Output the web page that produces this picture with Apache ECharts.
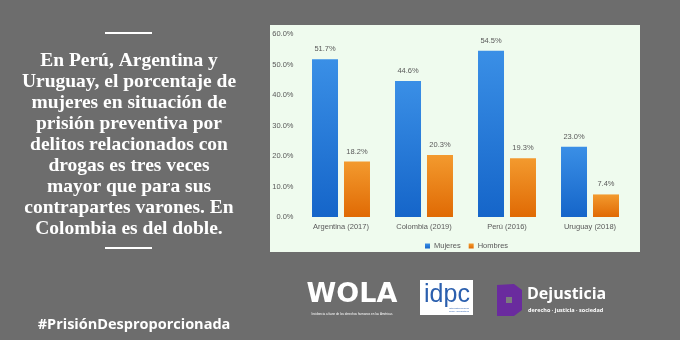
<!DOCTYPE html>
<html><head><meta charset="utf-8">
<script src="https://cdn.jsdelivr.net/npm/echarts@6/dist/echarts.min.js"></script>
<style>html,body{margin:0;padding:0;background:#6d6d6d}#c{width:680px;height:340px}</style>
</head><body><div id="c"></div>
<script>
const categories = ['Argentina (2017)', 'Colombia (2019)', 'Perú (2016)', 'Uruguay (2018)'];
const mujeres = [51.7, 44.6, 54.5, 23.0];
const hombres = [18.2, 20.3, 19.3, 7.4];
const seriesNames = ['Mujeres', 'Hombres'];
const yTicks = { min: 0, max: 60, interval: 10 };
const headline = ['En Perú, Argentina y', 'Uruguay, el porcentaje de', 'mujeres en situación de', 'prisión preventiva por', 'delitos relacionados con', 'drogas es tres veces', 'mayor que para sus', 'contrapartes varones. En', 'Colombia es del doble.'];
const hashtag = '#PrisiónDesproporcionada';

const chart = echarts.init(document.getElementById('c'), null, { renderer: 'canvas' });
const grad = (a, b) => new echarts.graphic.LinearGradient(0, 0, 0, 1, [{ offset: 0, color: a }, { offset: 1, color: b }]);
const lblStyle = { show: true, position: 'top', distance: 6, fontSize: 7.5, color: '#595959', fontFamily: 'Liberation Sans', formatter: p => p.value.toFixed(1) + '%' };

chart.setOption({
  backgroundColor: '#6d6d6d',
  animation: false,
  graphic: [
    { type: 'rect', z: -10, shape: { x: 270, y: 25, width: 370, height: 227 }, style: { fill: '#effbee' } },
    { type: 'rect', shape: { x: 105, y: 32, width: 47, height: 2 }, style: { fill: '#ffffff' } },
    { type: 'rect', shape: { x: 105, y: 247, width: 47, height: 2 }, style: { fill: '#ffffff' } },
    { type: 'text', style: { x: 129, y: 50, text: headline.join('\n'), textAlign: 'center', textVerticalAlign: 'top', fill: '#ffffff', font: 'bold 19.5px "Liberation Serif"', lineHeight: 21 } },
    { type: 'text', style: { x: 134, y: 325, text: hashtag, textAlign: 'center', textVerticalAlign: 'middle', fill: '#ffffff', font: 'bold 14.5px "Open Sans"' } },
    // WOLA logo
    { type: 'text', style: { x: 352, y: 295, text: 'WOLA', textAlign: 'center', textVerticalAlign: 'middle', fill: '#ffffff', font: 'bold 27px "DejaVu Sans"' } },
    { type: 'text', style: { x: 352, y: 314, text: 'Incidencia a favor de los derechos humanos en las Américas', textAlign: 'center', textVerticalAlign: 'middle', fill: '#ffffff', font: '3px "Liberation Sans"' } },
    // idpc logo
    { type: 'rect', shape: { x: 420, y: 280, width: 53, height: 35 }, style: { fill: '#ffffff' } },
    { type: 'text', style: { x: 447, y: 295, text: 'idpc', textAlign: 'center', textVerticalAlign: 'middle', fill: '#2b5fae', font: '25px "Liberation Sans"' } },
    { type: 'text', style: { x: 459, y: 310, text: 'International Drug\nPolicy Consortium', textAlign: 'center', textVerticalAlign: 'middle', fill: '#2b5fae', font: '2.5px "Liberation Sans"', lineHeight: 3 } },
    // Dejusticia logo
    { type: 'polygon', shape: { points: [[497, 285], [514, 284], [522, 290], [522, 310], [514, 316], [497, 316]] }, style: { fill: '#6a2b9e' } },
    { type: 'rect', shape: { x: 506, y: 297, width: 6, height: 6 }, style: { fill: '#7d7d7d' } },
    { type: 'text', style: { x: 527, y: 294, text: 'Dejusticia', textAlign: 'left', textVerticalAlign: 'middle', fill: '#ffffff', font: 'bold 16px "Open Sans"' } },
    { type: 'text', style: { x: 528, y: 310, text: 'derecho · justicia · sociedad', textAlign: 'left', textVerticalAlign: 'middle', fill: '#ffffff', font: 'bold 5.5px "Open Sans"' } }
  ],
  grid: { left: 299.5, right: 48.5, top: 34, bottom: 123, containLabel: false },
  legend: {
    data: seriesNames, top: 237, left: 420, itemWidth: 5, itemHeight: 5, itemGap: 8,
    icon: 'rect', textStyle: { fontSize: 7.5, color: '#595959', fontFamily: 'Liberation Sans', padding: [0, 0, 0, -1] }
  },
  xAxis: {
    type: 'category', data: categories,
    axisLine: { show: false }, axisTick: { show: false },
    axisLabel: { fontSize: 7.5, color: '#595959', fontFamily: 'Liberation Sans', margin: 6 }
  },
  yAxis: {
    type: 'value', min: yTicks.min, max: yTicks.max, interval: yTicks.interval,
    splitLine: { show: false }, axisLine: { show: false }, axisTick: { show: false },
    axisLabel: { fontSize: 7.5, color: '#595959', fontFamily: 'Liberation Sans', margin: 6, formatter: v => v.toFixed(1) + '%' }
  },
  series: [
    { name: seriesNames[0], type: 'bar', data: mujeres, barWidth: 26, barGap: '23%', itemStyle: { color: grad('#3a8fe6', '#1565c9') }, label: lblStyle },
    { name: seriesNames[1], type: 'bar', data: hombres, barWidth: 26, itemStyle: { color: grad('#f39a2e', '#e06a04') }, label: lblStyle }
  ]
});
</script></body></html>
